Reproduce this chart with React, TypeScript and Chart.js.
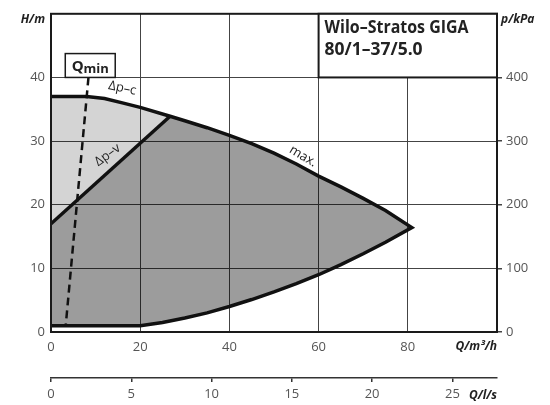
import React, { useEffect, useRef } from 'react';
import { Chart, registerables } from 'chart.js';

Chart.register(...registerables);

// Axis ticks
const flowTicks = [0, 20, 40, 60, 80];          // Q / m³/h
const headTicks = [0, 10, 20, 30, 40];          // H / m
const pressureTicks = [0, 100, 200, 300, 400];  // p / kPa
const litreTicks = [0, 5, 10, 15, 20, 25];      // Q / l/s

// Upper envelope: Δp-c section and "max." curve (Q m³/h, H m)
const maxQ = [0, 8, 12, 16, 20, 26.7, 30, 35, 40, 45, 50, 55, 60, 65, 70, 75, 80.9];
const maxH = [37, 37, 36.7, 36.0, 35.3, 33.9, 33.2, 32.1, 30.9, 29.6, 28.1, 26.4, 24.5, 22.8, 21.0, 19.1, 16.4];
// Lower (minimum speed) curve
const minQ = [0, 20, 25, 30, 35, 40, 45, 50, 55, 60, 65, 70, 75, 80.9];
const minH = [1, 1, 1.5, 2.2, 3.0, 4.0, 5.1, 6.3, 7.6, 9.0, 10.6, 12.3, 14.1, 16.4];
// Δp-v control line
const dpvQ = [0, 26.7];
const dpvH = [17, 33.9];
// Qmin limit line
const qminQ = [8.4, 3.3];
const qminH = [40, 1];

const FONT = "'Open Sans', 'DejaVu Sans', sans-serif";

const toPts = (q: number[], h: number[]) => q.map((x, i) => ({ x, y: h[i] }));

const annotations = {
  id: 'annotations',
  afterDatasetsDraw(chart: any) {
    const { ctx, chartArea: a, scales } = chart;
    const x = scales.x;
    const y = scales.y;
    ctx.save();
    // frame
    ctx.strokeStyle = '#1a1a1a';
    ctx.lineWidth = 2;
    ctx.strokeRect(a.left, a.top, a.right - a.left, a.bottom - a.top);

    // title box
    const bx0 = x.getPixelForValue(60);
    const by0 = y.getPixelForValue(50);
    const by1 = y.getPixelForValue(40);
    ctx.fillStyle = '#fff';
    ctx.fillRect(bx0, by0, a.right - bx0, by1 - by0);
    ctx.strokeRect(bx0, by0, a.right - bx0, by1 - by0);
    ctx.fillStyle = '#222';
    ctx.textAlign = 'left';
    ctx.textBaseline = 'alphabetic';
    ctx.font = `bold 18px ${FONT}`;
    ctx.fillText('Wilo–Stratos GIGA', bx0 + 6, by0 + 19, 144);
    ctx.fillText('80/1–37/5.0', bx0 + 6, by0 + 41, 98);

    // Qmin box
    const qx0 = x.getPixelForValue(3.2);
    const qx1 = x.getPixelForValue(14.4);
    const qy0 = y.getPixelForValue(43.75);
    ctx.fillStyle = '#fff';
    ctx.lineWidth = 1.5;
    ctx.fillRect(qx0, qy0, qx1 - qx0, by1 - qy0);
    ctx.strokeRect(qx0, qy0, qx1 - qx0, by1 - qy0);
    ctx.fillStyle = '#222';
    ctx.font = `bold 15px ${FONT}`;
    const qw = ctx.measureText('Q').width;
    ctx.font = `bold 13px ${FONT}`;
    const mw = ctx.measureText('min').width;
    const tx = (qx0 + qx1) / 2 - (qw + mw) / 2;
    ctx.font = `bold 15px ${FONT}`;
    ctx.fillText('Q', tx, qy0 + 17);
    ctx.font = `bold 13px ${FONT}`;
    ctx.fillText('min', tx + qw, qy0 + 19);

    // curve labels
    const label = (t: string, q: number, h: number, deg: number) => {
      ctx.save();
      ctx.translate(x.getPixelForValue(q), y.getPixelForValue(h));
      ctx.rotate((deg * Math.PI) / 180);
      ctx.font = `13px ${FONT}`;
      ctx.fillStyle = '#222';
      ctx.textAlign = 'center';
      ctx.textBaseline = 'middle';
      ctx.fillText(t, 0, 0);
      ctx.restore();
    };
    label('Δp–c', 16.0, 38.3, 12);
    label('Δp–v', 12.7, 27.8, -36);
    label('max.', 56.5, 27.6, 31);

    // axis titles
    ctx.fillStyle = '#222';
    ctx.font = `italic bold 12px ${FONT}`;
    ctx.textBaseline = 'middle';
    ctx.textAlign = 'right';
    ctx.fillText('H/m', a.left - 6, 20);
    ctx.fillText('Q/m³/h', a.right, 347);
    ctx.fillText('Q/l/s', a.right, 396);
    ctx.textAlign = 'left';
    ctx.fillText('p/kPa', a.right + 4, 20);
    ctx.restore();
  },
};

export default function App() {
  const ref = useRef<HTMLCanvasElement>(null);

  useEffect(() => {
    const maxPts = toPts(maxQ, maxH);
    const minPts = toPts(minQ, minH);
    const dpvPts = toPts(dpvQ, dpvH);
    const knee = maxQ.indexOf(dpvQ[1]);
    const envelope = [...maxPts, ...minPts.slice(0, -1).reverse()];
    const darkPoly = [...dpvPts, ...maxPts.slice(knee + 1), ...minPts.slice(0, -1).reverse()];
    const lightPoly = [...maxPts.slice(0, knee + 1), dpvPts[0]];

    const tickFont = { family: FONT, size: 13 };
    const tickColor = '#555';

    const chart = new Chart(ref.current!, {
      type: 'line',
      data: {
        datasets: [
          {
            data: envelope,
            borderColor: '#111',
            borderWidth: 3.5,
            borderJoinStyle: 'miter',
            pointRadius: 0,
            fill: false,
            order: 1,
          },
          {
            data: dpvPts,
            borderColor: '#111',
            borderWidth: 3.5,
            pointRadius: 0,
            fill: false,
            order: 2,
          },
          {
            data: toPts(qminQ, qminH),
            borderColor: '#111',
            borderWidth: 2.5,
            borderDash: [8, 5],
            pointRadius: 0,
            fill: false,
            order: 0,
          },
          {
            data: lightPoly,
            borderWidth: 0,
            borderColor: 'rgba(0,0,0,0)',
            backgroundColor: 'rgba(0,0,0,0.17)',
            pointRadius: 0,
            fill: 'shape',
            order: 10,
          },
          {
            data: darkPoly,
            borderWidth: 0,
            borderColor: 'rgba(0,0,0,0)',
            backgroundColor: 'rgba(0,0,0,0.39)',
            pointRadius: 0,
            fill: 'shape',
            order: 11,
          },
        ] as any,
      },
      options: {
        animation: false,
        responsive: true,
        maintainAspectRatio: false,
        layout: { padding: { top: 12, left: 0, right: 0, bottom: 0 } },
        plugins: { legend: { display: false }, tooltip: { enabled: false } },
        elements: { line: { tension: 0 } },
        scales: {
          x: {
            type: 'linear',
            position: 'bottom',
            min: 0,
            max: 100,
            weight: 0,
            afterBuildTicks: (s: any) => { s.ticks = flowTicks.map((v) => ({ value: v })); },
            afterFit: (s: any) => { s.height = 46; },
            ticks: { font: tickFont, color: tickColor, padding: 7, maxRotation: 0, callback: (v: any) => String(v) },
            grid: { color: '#444', lineWidth: 1, drawTicks: false },
            border: { display: false },
          },
          x2: {
            type: 'linear',
            position: 'bottom',
            min: 0,
            max: 100 / 3.6,
            weight: 1,
            afterBuildTicks: (s: any) => { s.ticks = litreTicks.map((v) => ({ value: v })); },
            afterFit: (s: any) => { s.height = 27; },
            ticks: { font: tickFont, color: tickColor, padding: 4, maxRotation: 0, callback: (v: any) => String(v) },
            grid: { drawOnChartArea: false, drawTicks: true, tickLength: 4, color: '#333', lineWidth: 1.5 },
            border: { display: true, color: '#333', width: 1.5 },
          },
          y: {
            type: 'linear',
            position: 'left',
            min: 0,
            max: 50,
            afterBuildTicks: (s: any) => { s.ticks = headTicks.map((v) => ({ value: v })); },
            afterFit: (s: any) => { s.width = 51; },
            ticks: { font: tickFont, color: tickColor, padding: 6, callback: (v: any) => String(v) },
            grid: { color: '#444', lineWidth: 1, drawTicks: false },
            border: { display: false },
          },
          y2: {
            type: 'linear',
            position: 'right',
            min: 0,
            max: 500,
            afterBuildTicks: (s: any) => { s.ticks = pressureTicks.map((v) => ({ value: v })); },
            afterFit: (s: any) => { s.width = 53; },
            ticks: { font: tickFont, color: tickColor, padding: 4, callback: (v: any) => String(v) },
            grid: { drawOnChartArea: false, drawTicks: true, tickLength: 5, color: '#444', lineWidth: 1.5 },
            border: { display: false },
          },
        },
      } as any,
      plugins: [annotations],
    });
    return () => chart.destroy();
  }, []);

  return (
    <div style={{ position: 'absolute', left: 0, top: 0, width: 550, height: 405 }}>
      <canvas ref={ref} />
    </div>
  );
}
